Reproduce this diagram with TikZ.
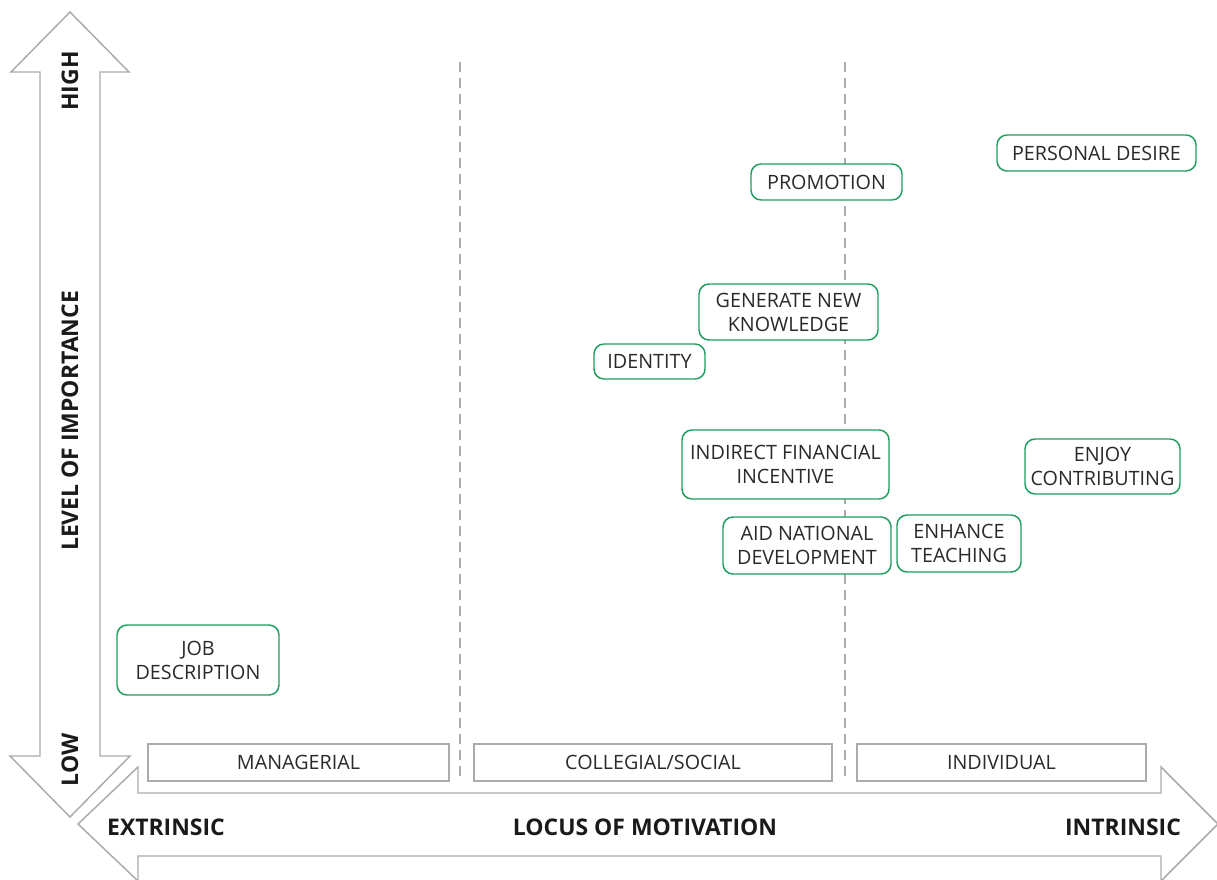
\documentclass[tikz,border=0pt]{standalone}
\usepackage{fontspec}
\setmainfont{Open Sans}
\definecolor{gborder}{HTML}{1E9E5E}
\definecolor{lgray}{HTML}{ABABAB}
\definecolor{txt}{HTML}{2A2A2A}
\definecolor{btxt}{HTML}{1A1A1A}
\begin{document}
\begin{tikzpicture}[x=0.75pt,y=-0.75pt,
  gbox/.style={draw=gborder, line width=1.1pt, rounded corners=7.5pt, fill=white, inner sep=0pt, align=center, text=txt, font=\fontsize{14.8}{18}\selectfont},
  cbox/.style={draw=lgray, line width=1.1pt, fill=white, inner sep=0pt, text=txt, font=\fontsize{14.8}{18}\selectfont, minimum height=27.75pt},
  blab/.style={text=btxt, font=\bfseries\fontsize{17.2}{20}\selectfont, inner sep=0pt},
  divider/.style={draw=lgray, line width=1.5pt, dash pattern=on 7.5pt off 4.5pt},
  arrowshape/.style={draw=lgray, line width=1.1pt, fill=white}]
\useasboundingbox (0,0) rectangle (1217,880);
\begin{scope}
\clip (0,0) rectangle (1217,880);
% horizontal double arrow
\draw[arrowshape] (78,824) -- (138,767) -- (138,793) -- (1161,793) -- (1161,767) -- (1218,824) -- (1161,881) -- (1161,856) -- (138,856) -- (138,881) -- cycle;
% vertical double arrow
\draw[arrowshape] (70,12) -- (129,72) -- (100,72) -- (100,756) -- (130,756) -- (70,817) -- (10,756) -- (40,756) -- (40,72) -- (11,72) -- cycle;
\end{scope}
% dividers
\coordinate (d1t) at (460,62); \coordinate (d1b) at (460,781);
\coordinate (d2t) at (845,62); \coordinate (d2b) at (845,781);
\draw[divider] (d1t) -- (d1b);
\draw[divider] (d2t) -- (d2b);
% axis labels
\node[blab, rotate=90] (high) at (70,81) {HIGH};
\node[blab, rotate=90] (level) at (70,421) {LEVEL OF IMPORTANCE};
\node[blab, rotate=90] (low) at (70,760) {LOW};
\node[blab] (extr) at (166,827) {EXTRINSIC};
\node[blab] (locus) at (645,827) {LOCUS OF MOTIVATION};
\node[blab] (intr) at (1123,827) {INTRINSIC};
% category boxes
\node[cbox, minimum width=225.75pt] (man) at (298.5,762.5) {MANAGERIAL};
\node[cbox, minimum width=268.5pt] (col) at (653,762.5) {COLLEGIAL/SOCIAL};
\node[cbox, minimum width=216.75pt] (ind) at (1001.5,762.5) {INDIVIDUAL};
% motivation boxes
\node[gbox, minimum width=149.25pt, minimum height=27pt] (pd) at (1096.5,153) {PERSONAL DESIRE};
\node[gbox, minimum width=113.25pt, minimum height=27pt] (prom) at (826.5,182) {PROMOTION};
\node[gbox, minimum width=134.25pt, minimum height=42pt] (gen) at (788.5,312) {GENERATE NEW\\KNOWLEDGE};
\node[gbox, minimum width=83.25pt, minimum height=26.25pt] (iden) at (649.5,361.5) {IDENTITY};
\node[gbox, minimum width=155.25pt, minimum height=51.75pt] (indf) at (785.5,464.5) {INDIRECT FINANCIAL\\INCENTIVE};
\node[gbox, minimum width=116.25pt, minimum height=41.25pt] (enj) at (1102.5,466.5) {ENJOY\\CONTRIBUTING};
\node[gbox, minimum width=126pt, minimum height=42.75pt] (aid) at (807,545.5) {AID NATIONAL\\DEVELOPMENT};
\node[gbox, minimum width=93pt, minimum height=42.75pt] (enh) at (959,543.5) {ENHANCE\\TEACHING};
\node[gbox, minimum width=121.5pt, minimum height=52.5pt] (job) at (198,660) {JOB\\DESCRIPTION};
\end{tikzpicture}
\end{document}
